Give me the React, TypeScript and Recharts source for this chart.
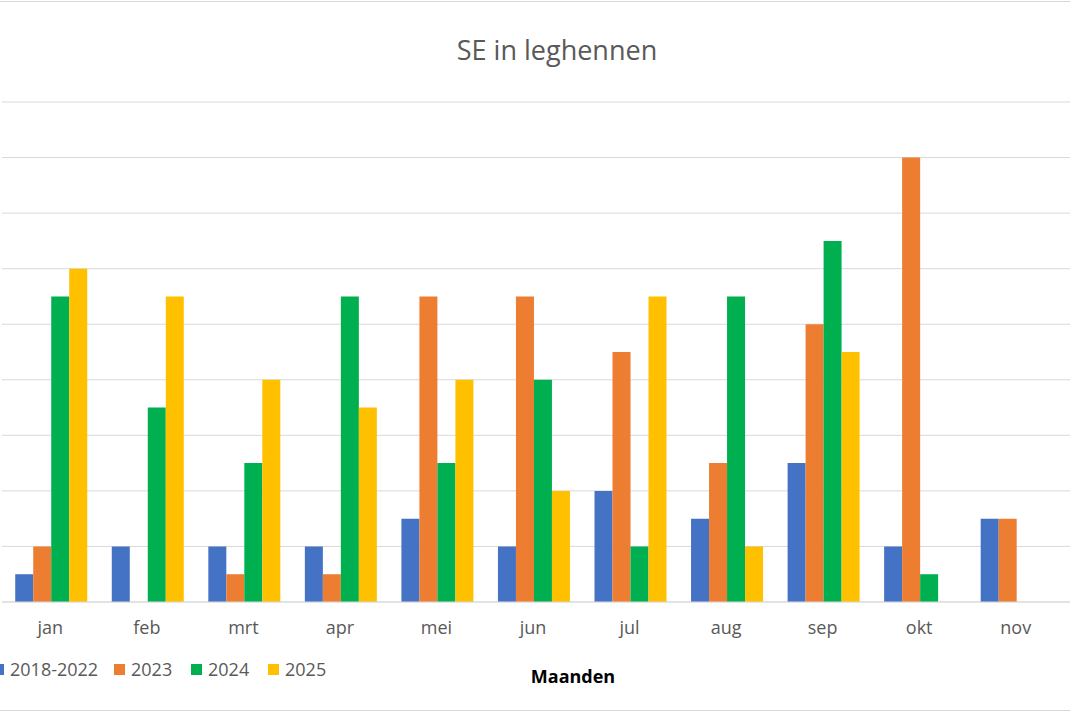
import React from "react";
import { BarChart, Bar, XAxis, YAxis, CartesianGrid } from "recharts";

const months = ["jan", "feb", "mrt", "apr", "mei", "jun", "jul", "aug", "sep", "okt", "nov"];
const s20182022 = [1, 2, 2, 2, 3, 2, 4, 3, 5, 2, 3];
const s2023 = [2, 0, 1, 1, 11, 11, 9, 5, 10, 16, 3];
const s2024 = [11, 7, 5, 11, 5, 8, 2, 11, 13, 1, 0];
const s2025 = [12, 11, 8, 7, 8, 4, 11, 2, 9, 0, 0];
const yTicks = [0, 2, 4, 6, 8, 10, 12, 14, 16, 18];

const series = [
  { key: "a", name: "2018-2022", color: "#4472C4" },
  { key: "b", name: "2023", color: "#ED7D31" },
  { key: "c", name: "2024", color: "#00B050" },
  { key: "d", name: "2025", color: "#FFC000" },
];

const data = months.map((m, i) => ({
  month: m,
  a: s20182022[i],
  b: s2023[i],
  c: s2024[i],
  d: s2025[i],
}));

const font = "'Open Sans', sans-serif";
const legendX = [-7, 114, 191, 268];

export default function App() {
  return (
    <div style={{ position: "absolute", left: 0, top: 0, width: 1070, height: 713, background: "#fff", overflow: "hidden" }}>
      <div style={{ position: "absolute", left: 0, top: 1, width: 1070, height: 0, borderTop: "1px solid #d9d9d9" }} />
      <div style={{ position: "absolute", left: 0, top: 710, width: 1070, height: 0, borderTop: "1px solid #d9d9d9" }} />
      <div style={{ position: "absolute", left: 0, top: 31, width: 1114, textAlign: "center", fontFamily: font, fontSize: 27, color: "#595959" }}>
        SE in leghennen
      </div>
      <div style={{ position: "absolute", left: 0, top: 664, width: 1146, textAlign: "center", fontFamily: font, fontSize: 18, fontWeight: 700, color: "#000" }}>
        Maanden
      </div>
      <div style={{ position: "absolute", left: 0, top: 657, width: 600, height: 24, fontFamily: font, fontSize: 18, color: "#595959" }}>
        {series.map((s, i) => (
          <div key={s.key} style={{ position: "absolute", left: legendX[i], top: 0, display: "flex", alignItems: "center" }}>
            <span style={{ width: 11, height: 11, background: s.color, display: "inline-block", marginRight: 6 }} />
            <span>{s.name}</span>
          </div>
        ))}
      </div>
      <div style={{ position: "absolute", left: 0, top: 0 }}>
        <BarChart
          width={1070}
          height={713}
          data={data}
          margin={{ top: 102, right: 0, bottom: 71, left: 2 }}
          barCategoryGap="13.7%"
          barGap={0}
        >
          <CartesianGrid vertical={false} stroke="#d9d9d9" />
          <XAxis
            dataKey="month"
            padding={{ left: 0, right: 6 }}
            axisLine={{ stroke: "#d9d9d9" }}
            tickLine={false}
            tickMargin={13}
            height={40}
            tick={{ fill: "#595959", fontSize: 18, fontFamily: font }}
            interval={0}
          />
          <YAxis hide domain={[0, 18]} ticks={yTicks} interval={0} />
          {series.map((s) => (
            <Bar key={s.key} dataKey={s.key} name={s.name} fill={s.color} isAnimationActive={false} />
          ))}
        </BarChart>
      </div>
    </div>
  );
}
